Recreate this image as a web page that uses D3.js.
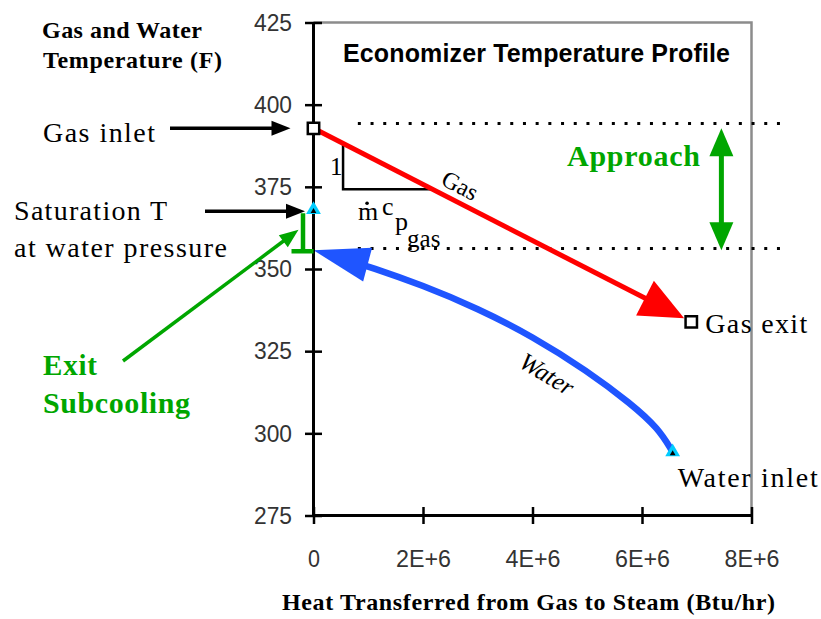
<!DOCTYPE html>
<html>
<head>
<meta charset="utf-8">
<script src="https://cdn.jsdelivr.net/npm/d3@7"></script>
<style>
  body { margin: 0; background: #fff; }
</style>
</head>
<body>
<script>
// values
var xTicks = [0, 2e6, 4e6, 6e6, 8e6];
var yTicks = [275, 300, 325, 350, 375, 400, 425];

var gasQ = [0, 6.9e6];
var gasT = [392.8, 333.9];

var waterQ = [0, 1.0e6, 2.0e6, 3.0e6, 4.0e6, 5.0e6, 5.8e6, 6.3e6, 6.56e6];
var waterT = [355.7, 350.8, 345, 338, 329.5, 319, 309, 301.5, 294.3];

var satT = 368;             // saturation T at water pressure
var guideT = [394.3, 356.2]; // dotted "approach" guides
var guideQ = [0.81e6, 8.65e6];
var approachQ = 7.45e6;
var triQ = [0.54e6, 2.17e6]; // slope triangle under the gas line

var serif = "'Liberation Serif', 'Times New Roman', serif",
    sans = "'Liberation Sans', Arial, sans-serif",
    green = "#00a600",
    red = "#ff0000",
    blue = "#1f55ff",
    cyan = "#00ccff";

var width = 821,
    height = 619;

var svg = d3.select("body").append("svg")
    .attr("width", width)
    .attr("height", height);

svg.append("rect").attr("width", width).attr("height", height).attr("fill", "#fff");

var x = d3.scaleLinear().domain([0, 8e6]).range([313.5, 751.5]);
var y = d3.scaleLinear().domain([275, 425]).range([515.5, 22.5]);

// plot frame (top + right)
svg.append("path")
    .attr("d", "M" + x(0) + "," + y(425) + "H" + x(8e6) + "V" + y(275))
    .attr("fill", "none")
    .attr("stroke", "#8c8c8c")
    .attr("stroke-width", 2.5);

// dotted guides
svg.selectAll(".guide")
    .data(guideT)
    .enter().append("line")
    .attr("class", "guide")
    .attr("x1", x(guideQ[0]))
    .attr("x2", x(guideQ[1]))
    .attr("y1", function (d) { return y(d); })
    .attr("y2", function (d) { return y(d); })
    .attr("stroke", "#000")
    .attr("stroke-width", 3)
    .attr("stroke-dasharray", "3,9.7");

function gasAt(q) {
    return gasT[0] + (gasT[1] - gasT[0]) * (q - gasQ[0]) / (gasQ[1] - gasQ[0]);
}

// slope triangle
svg.append("path")
    .attr("d", "M" + x(triQ[0]) + "," + y(gasAt(triQ[0])) +
        "V" + y(gasAt(triQ[1])) + "H" + x(triQ[1]))
    .attr("fill", "none")
    .attr("stroke", "#000")
    .attr("stroke-width", 2.5);

function arrowHead(g, tip, from, len, wid, color) {
    var dx = tip[0] - from[0], dy = tip[1] - from[1],
        d = Math.hypot(dx, dy), ux = dx / d, uy = dy / d,
        bx = tip[0] - ux * len, by = tip[1] - uy * len,
        px = -uy * wid / 2, py = ux * wid / 2;
    g.append("path")
        .attr("d", "M" + tip[0] + "," + tip[1] + "L" + (bx + px) + "," + (by + py) +
            "L" + (bx - px) + "," + (by - py) + "Z")
        .attr("fill", color);
}

// gas line
var gIn = [x(gasQ[0]), y(gasT[0])], gOut = [x(gasQ[1]), y(gasT[1])];
var gLen = Math.hypot(gOut[0] - gIn[0], gOut[1] - gIn[1]);
var gTip = [gOut[0] - (gOut[0] - gIn[0]) / gLen * 8, gOut[1] - (gOut[1] - gIn[1]) / gLen * 8];
svg.append("line")
    .attr("x1", gIn[0]).attr("y1", gIn[1])
    .attr("x2", gTip[0] - (gOut[0] - gIn[0]) / gLen * 30)
    .attr("y2", gTip[1] - (gOut[1] - gIn[1]) / gLen * 30)
    .attr("stroke", red)
    .attr("stroke-width", 5);
arrowHead(svg, gTip, gIn, 44, 39, red);

// water curve
var waterPts = waterQ.map(function (q, i) { return [q, waterT[i]]; });
var line = d3.line()
    .x(function (d) { return x(d[0]); })
    .y(function (d) { return y(d[1]); })
    .curve(d3.curveBasis);
svg.append("path")
    .datum([[0.75e6, 352]].concat(waterPts.slice(1)).concat([waterPts[waterPts.length - 1]]))
    .attr("d", line)
    .attr("fill", "none")
    .attr("stroke", blue)
    .attr("stroke-width", 6.5);
arrowHead(svg, [x(waterQ[0]), y(waterT[0])], [x(0.95e6), y(351.5)], 56, 35, blue);

// axes
var yAxis = d3.axisLeft(y).tickValues(yTicks).tickSizeInner(8).tickSizeOuter(0);
var yg = svg.append("g").attr("transform", "translate(" + (x(0) - 0.5) + ",0)").call(yAxis);
yg.select(".domain").attr("stroke-width", 3);
yg.selectAll(".tick line").attr("x1", 9).attr("x2", -8).attr("stroke-width", 2.5);
yg.selectAll(".tick text")
    .attr("x", -21)
    .attr("font-family", sans)
    .attr("font-size", 24)
    .attr("fill", "#333")
    .attr("textLength", 38)
    .attr("lengthAdjust", "spacingAndGlyphs");

var xAxis = d3.axisBottom(x)
    .tickValues(xTicks)
    .tickFormat(function (d) { return d === 0 ? "0" : (d / 1e6) + "E+6"; })
    .tickSizeInner(8)
    .tickSizeOuter(0);
var xg = svg.append("g").attr("transform", "translate(0," + (y(275) - 0.5) + ")").call(xAxis);
xg.select(".domain").attr("stroke-width", 3);
xg.selectAll(".tick line").attr("y1", -8).attr("y2", 9).attr("stroke-width", 2.5);
xg.selectAll(".tick text")
    .attr("y", 52)
    .attr("dy", 0)
    .attr("font-family", sans)
    .attr("font-size", 24)
    .attr("fill", "#333")
    .attr("textLength", function (d) { return d === 0 ? 12 : 55; })
    .attr("lengthAdjust", "spacingAndGlyphs");

// markers
var sq = d3.symbol(d3.symbolSquare, 130);
[[gasQ[0], gasT[0]], [gasQ[1], gasT[1]]].forEach(function (p) {
    svg.append("path")
        .attr("d", sq)
        .attr("transform", "translate(" + x(p[0]) + "," + y(p[1]) + ")")
        .attr("fill", "#fff")
        .attr("stroke", "#000")
        .attr("stroke-width", 2.5);
});
var triBig = d3.symbol(d3.symbolTriangle, 95), triSmall = d3.symbol(d3.symbolTriangle, 14);
[[0, satT], [waterQ[waterQ.length - 1], waterT[waterT.length - 1]]].forEach(function (p) {
    svg.append("path")
        .attr("d", triBig)
        .attr("transform", "translate(" + x(p[0]) + "," + y(p[1]) + ")")
        .attr("fill", cyan);
    svg.append("path")
        .attr("d", triSmall)
        .attr("transform", "translate(" + x(p[0]) + "," + (y(p[1]) + 1.5) + ")")
        .attr("fill", "#000");
});

// subcooling bracket
svg.append("path")
    .attr("d", "M" + (x(0) - 10.5) + "," + y(satT - 1) + "V" + (y(waterT[0]) + 1) +
        "M" + (x(0) - 22) + "," + (y(waterT[0]) + 1) + "H" + x(0))
    .attr("fill", "none")
    .attr("stroke", green)
    .attr("stroke-width", 4.5);

// approach double arrow
var aTop = [x(approachQ), y(gasT[0])], aBot = [x(approachQ), y(waterT[0])];
svg.append("line")
    .attr("x1", aTop[0]).attr("x2", aBot[0])
    .attr("y1", aTop[1] + 20).attr("y2", aBot[1] - 20)
    .attr("stroke", green)
    .attr("stroke-width", 5);
arrowHead(svg, aTop, aBot, 28, 24, green);
arrowHead(svg, aBot, aTop, 28, 24, green);

// pointer arrows
function pointer(x1, y1, x2, y2, color, w) {
    var d = Math.hypot(x2 - x1, y2 - y1);
    svg.append("line")
        .attr("x1", x1).attr("y1", y1)
        .attr("x2", x2 - (x2 - x1) / d * 12).attr("y2", y2 - (y2 - y1) / d * 12)
        .attr("stroke", color)
        .attr("stroke-width", w);
    arrowHead(svg, [x2, y2], [x1, y1], 19, 15, color);
}
pointer(170, y(gasT[0]), x(0) - 23, y(gasT[0]), "#000", 3.5);
pointer(205, y(satT) + 1.5, x(0) - 8.5, y(satT) + 1.5, "#000", 3.5);
pointer(123, 361, x(0) - 15, y(satT) + 20, green, 3.5);

// texts
function label(str, x0, base, opt) {
    var t = svg.append("text")
        .attr("x", x0)
        .attr("y", base)
        .attr("font-family", opt.family || serif)
        .attr("font-size", opt.size || 28)
        .attr("font-weight", opt.weight || "normal")
        .attr("fill", opt.fill || "#000")
        .text(str);
    if (opt.len) t.attr("textLength", opt.len);
    if (opt.style) t.attr("font-style", opt.style);
    return t;
}

label("Gas and Water", 42, 38, { size: 24, weight: "bold", len: 160 });
label("Temperature (F)", 43, 68, { size: 24, weight: "bold", len: 179 });
label("Economizer Temperature Profile", 343, 62, { size: 25, weight: "bold", family: sans, len: 387 });
label("Gas inlet", 43, 142, { len: 112 });
label("Saturation T", 14, 220, { len: 153 });
label("at water pressure", 14, 257, { len: 213 });
label("Exit", 43, 375, { size: 29, weight: "bold", fill: green, len: 54 });
label("Subcooling", 43, 413, { size: 30, weight: "bold", fill: green, len: 147 });
label("Approach", 567, 166, { size: 30, weight: "bold", fill: green, len: 133 });
label("Gas exit", x(gasQ[1]) + 14, y(gasT[1]) + 11, { len: 102 });
label("Water inlet", x(waterQ[waterQ.length - 1]) + 5, y(waterT[waterT.length - 1]) + 35, { len: 140 });
label("Heat Transferred from Gas to Steam (Btu/hr)", 282, 610, { size: 24, weight: "bold", len: 493 });

// slope triangle labels
var tcx = x(triQ[0]), tcy = y(gasAt(triQ[1]));
label("1", tcx - 13, tcy - 14, { size: 25 });
label("m", tcx + 15, tcy + 31, { size: 26 });
svg.append("circle").attr("cx", tcx + 24).attr("cy", tcy + 14).attr("r", 1.8).attr("fill", "#000");
label("c", tcx + 39, tcy + 26, { size: 26 });
label("p", tcx + 52, tcy + 41, { size: 26 });
label("gas", tcx + 64, tcy + 58, { size: 25 });

// line labels
svg.append("text")
    .attr("transform", "translate(" + 460 + "," + (y(gasAt(2.68e6)) - 18) + ") rotate(27)")
    .attr("text-anchor", "middle")
    .attr("dominant-baseline", "central")
    .attr("font-family", serif)
    .attr("font-size", 24)
    .text("Gas");
svg.append("text")
    .attr("transform", "translate(" + 547 + "," + 374 + ") rotate(31)")
    .attr("text-anchor", "middle")
    .attr("dominant-baseline", "central")
    .attr("font-family", serif)
    .attr("font-style", "italic")
    .attr("font-size", 25)
    .text("Water");
</script>
</body>
</html>
